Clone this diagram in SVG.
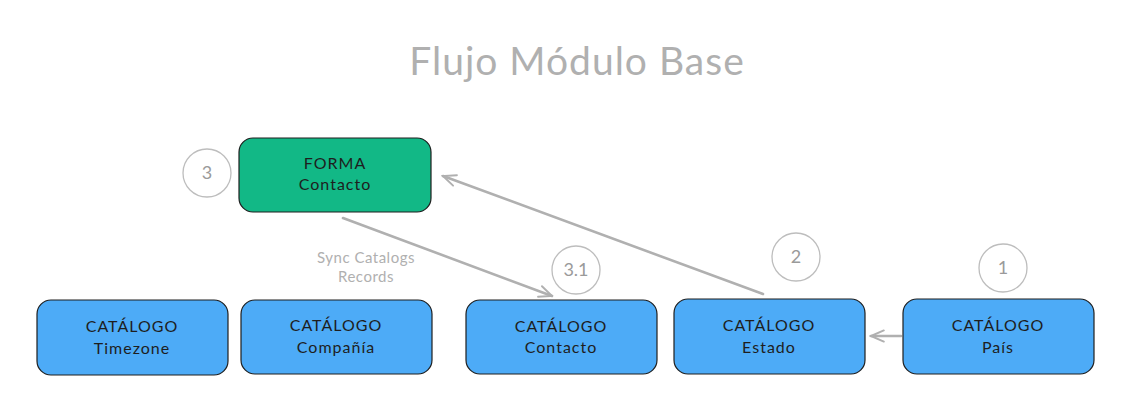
<svg xmlns="http://www.w3.org/2000/svg" width="1128" height="417" viewBox="0 0 1128 417">
<defs>
<style>
.box{stroke:#1e1e1e;stroke-width:1.2}
.cat{fill:#4dabf7}
.form{fill:#12b886}
.t{font-family:"Lato","Liberation Sans",sans-serif;font-size:16px;fill:#1e1e1e;text-anchor:middle;letter-spacing:1px}
.c{fill:none;stroke:#bdbdbd;stroke-width:1.3}
.ct{font-family:"Lato","Liberation Sans",sans-serif;font-size:18px;fill:#9a9a9a;text-anchor:middle}
.edge{fill:none;stroke:#b0b0b0;stroke-width:2.6;stroke-linecap:round}
.lbl{font-family:"Lato","Liberation Sans",sans-serif;font-size:15px;fill:#b0b0b0;text-anchor:middle;letter-spacing:0.5px}
</style>
<marker id="ah" viewBox="0 0 20 20" refX="18" refY="10" markerWidth="16" markerHeight="16" orient="auto" markerUnits="userSpaceOnUse">
<path d="M2,3 L18,10 L2,17" fill="none" stroke="#b0b0b0" stroke-width="2.4" stroke-linecap="round"/>
</marker>
</defs>
<rect width="1128" height="417" fill="#ffffff"/>
<text x="577" y="75" font-family="Lato,'Liberation Sans',sans-serif" font-size="39" fill="#b0b0b0" text-anchor="middle" letter-spacing="1">Flujo Módulo Base</text>

<g id="connectors">
<line class="edge" x1="763" y1="294" x2="443" y2="176" marker-end="url(#ah)"/>
<line class="edge" x1="343" y1="218" x2="552" y2="296" marker-end="url(#ah)"/>
<line class="edge" x1="901" y1="336" x2="871" y2="336" marker-end="url(#ah)"/>
<text class="lbl" x="366" y="263">Sync Catalogs</text>
<text class="lbl" x="366" y="282">Records</text>
</g>

<g id="forma-contacto">
<rect class="box form" x="239" y="138" width="192" height="74" rx="14"/>
<text class="t" x="335" y="169">FORMA</text>
<text class="t" x="335" y="190">Contacto</text>
</g>
<g id="step-3">
<circle class="c" cx="207" cy="173" r="24"/>
<text class="ct" x="207" y="179">3</text>
</g>

<g id="cat-timezone">
<rect class="box cat" x="37" y="300" width="191" height="75" rx="14"/>
<text class="t" x="132" y="332">CATÁLOGO</text>
<text class="t" x="132" y="354">Timezone</text>
</g>
<g id="cat-compania">
<rect class="box cat" x="241" y="300" width="191" height="74" rx="14"/>
<text class="t" x="336" y="331">CATÁLOGO</text>
<text class="t" x="336" y="353">Compañía</text>
</g>
<g id="cat-contacto">
<rect class="box cat" x="466" y="300" width="191" height="74" rx="14"/>
<text class="t" x="561" y="332">CATÁLOGO</text>
<text class="t" x="561" y="353">Contacto</text>
</g>
<g id="step-3-1">
<circle class="c" cx="576" cy="270" r="24"/>
<text class="ct" x="576" y="276">3.1</text>
</g>
<g id="cat-estado">
<rect class="box cat" x="674" y="299" width="191" height="75" rx="14"/>
<text class="t" x="769" y="331">CATÁLOGO</text>
<text class="t" x="769" y="353">Estado</text>
</g>
<g id="step-2">
<circle class="c" cx="796" cy="257" r="24"/>
<text class="ct" x="796" y="263">2</text>
</g>
<g id="cat-pais">
<rect class="box cat" x="903" y="299" width="191" height="75" rx="14"/>
<text class="t" x="998" y="331">CATÁLOGO</text>
<text class="t" x="998" y="353">País</text>
</g>
<g id="step-1">
<circle class="c" cx="1003" cy="268" r="24"/>
<text class="ct" x="1003" y="274">1</text>
</g>
</svg>
